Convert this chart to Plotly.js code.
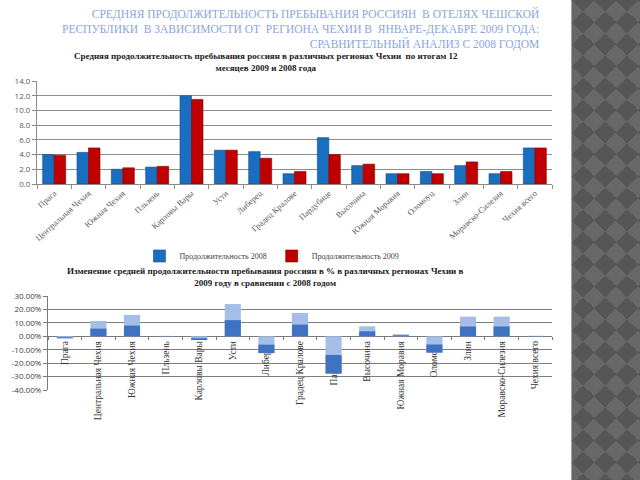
<!DOCTYPE html>
<html>
<head>
<meta charset="utf-8">
<script src="https://cdn.plot.ly/plotly-3.0.1.min.js"></script>
<style>
  html, body { margin:0; padding:0; background:#ffffff; }
  #wrap { position:relative; width:640px; height:480px; overflow:hidden; }
  #chart { position:absolute; left:0; top:0; width:640px; height:480px; }
  #strip { position:absolute; left:571px; top:0; width:69px; height:480px; z-index:10;
    border-left:1px solid #a0a0a0;
    background: conic-gradient(from -45deg, #565656 0 25%, #686868 0 50%, #565656 0 75%, #686868 0) 0 0 / 22px 22px; }
</style>
</head>
<body>
<div id="wrap">
  <div id="chart"></div>
  <div id="strip"></div>
</div>
<script>
// ---- data ----
const regions = ['Прага','Центральная Чехия','Южная Чехия','Пльзень','Карловы Вары','Усти','Либерец','Градец Кралове','Пардубице','Высочина','Южная Моравия','Оломоуц','Злин','Моравско-Силезия','Чехия всего'];
const duration2008 = [4.0, 4.3, 2.0, 2.3, 12.0, 4.6, 4.4, 1.4, 6.3, 2.5, 1.4, 1.7, 2.5, 1.4, 4.9];
const duration2009 = [3.9, 4.9, 2.2, 2.4, 11.5, 4.6, 3.5, 1.7, 4.0, 2.7, 1.4, 1.4, 3.0, 1.7, 4.9];
const changePct = [-1.5, 11.4, 15.9, 0.3, -2.8, 24.0, -12.5, 17.4, -27.8, 7.4, 1.5, -12.2, 14.6, 14.6, 0.4];
const pctTickVals = [-40, -30, -20, -10, 0, 10, 20, 30];
const pctTickText = ['-40.00%', '-30.00%', '-20.00%', '-10.00%', '0.00%', '10.00%', '20.00%', '30.00%'];

// ---- geometry helpers (pixels -> paper) ----
const W = 640, H = 480;
const px = v => v / W;
const py = v => 1 - v / H;

const top2Dom = [py(390), py(296)];
const pctMin = -40, pctMax = 30;
const zeroPos = top2Dom[0] + (top2Dom[1] - top2Dom[0]) * (0 - pctMin) / (pctMax - pctMin);

// lower (darker) half of each gradient bar
const darkBase = changePct.map(v => Math.min(0, v));
const darkLen = changePct.map(v => Math.abs(v) / 2);

const traces = [
  { type:'bar', x: regions, y: duration2008, name:'Продолжительность 2008',
    xaxis:'x', yaxis:'y', width:0.335, offset:-0.335,
    marker:{ color:'#1a6ebf', line:{ color:'#0f4f8f', width:0.6 } } },
  { type:'bar', x: regions, y: duration2009, name:'Продолжительность 2009',
    xaxis:'x', yaxis:'y', width:0.335, offset:0,
    marker:{ color:'#c00000', line:{ color:'#8a0000', width:0.6 } } },
  { type:'bar', x: regions, y: changePct, showlegend:false, hoverinfo:'skip',
    xaxis:'x2', yaxis:'y2', width:0.48, offset:-0.24,
    marker:{ color:'#a5bee6', line:{ width:0 } } },
  { type:'bar', x: regions, y: darkLen, base: darkBase, showlegend:false, hoverinfo:'skip',
    xaxis:'x2', yaxis:'y2', width:0.48, offset:-0.24,
    marker:{ color:'#3f72c0', line:{ width:0 } } }
];

const layout = {
  width: W, height: H,
  margin: { l:0, r:0, t:0, b:0 },
  paper_bgcolor: 'rgba(0,0,0,0)',
  plot_bgcolor: 'rgba(0,0,0,0)',
  barmode: 'overlay',
  font: { family:'Liberation Serif', color:'#404040' },
  showlegend: true,
  legend: {
    orientation:'h', x: px(272), xanchor:'center', y: py(256), yanchor:'middle',
    font: { family:'Liberation Serif', size:8, color:'#404040' },
    itemwidth: 30, bgcolor:'rgba(0,0,0,0)'
  },
  xaxis: {
    domain: [px(37), px(552)], anchor:'y', type:'category',
    showline:true, linecolor:'#8a8a8a', linewidth:1,
    ticks:'outside', tickson:'boundaries', ticklen:4, tickcolor:'#8a8a8a',
    tickangle:-42, showgrid:false,
    tickfont: { family:'Liberation Serif', size:8.5, color:'#595959' }
  },
  yaxis: {
    domain: [py(184), py(81)], anchor:'x', range:[0, 14], dtick:2, tickformat:'.1f',
    showline:true, linecolor:'#8a8a8a', ticks:'outside', ticklen:4, tickcolor:'#8a8a8a',
    showgrid:true, gridcolor:'#8c8c8c', gridwidth:1.2, zeroline:false,
    tickfont: { family:'Open Sans', size:8, color:'#595959' }
  },
  xaxis2: {
    domain: [px(48), px(552)], anchor:'free', position: zeroPos, type:'category',
    showline:true, linecolor:'#7a7a7a', linewidth:1,
    ticks:'outside', tickson:'boundaries', ticklen:3, tickcolor:'#7a7a7a',
    tickangle:-90, showgrid:false, layer:'below traces',
    tickfont: { family:'Liberation Serif', size:9.5, color:'#333333' }
  },
  yaxis2: {
    domain: top2Dom, anchor:'x2', range:[pctMin, pctMax],
    tickmode:'array', tickvals: pctTickVals, ticktext: pctTickText,
    showline:true, linecolor:'#7a7a7a', ticks:'outside', ticklen:4, tickcolor:'#7a7a7a',
    showgrid:true, gridcolor:'#7f7f7f', gridwidth:1.2, zeroline:false,
    tickfont: { family:'Open Sans', size:8, color:'#404040' }
  },
  annotations: [
    { text:'СРЕДНЯЯ ПРОДОЛЖИТЕЛЬНОСТЬ ПРЕБЫВАНИЯ РОССИЯН  В ОТЕЛЯХ ЧЕШСКОЙ<br>РЕСПУБЛИКИ  В ЗАВИСИМОСТИ ОТ  РЕГИОНА ЧЕХИИ В  ЯНВАРЕ-ДЕКАБРЕ 2009 ГОДА:<br>СРАВНИТЕЛЬНЫЙ АНАЛИЗ С 2008 ГОДОМ',
      xref:'paper', yref:'paper', x: px(541), y: py(5), xanchor:'right', yanchor:'top', align:'right',
      showarrow:false, font:{ family:'Liberation Serif', size:11.5, color:'#8aa6da' } },
    { text:'<b>Средняя продолжительность пребывания россиян в различных регионах Чехии  по итогам 12<br>месяцев 2009 и 2008 года</b>',
      xref:'paper', yref:'paper', x: px(266), y: py(62), xanchor:'center', yanchor:'middle',
      showarrow:false, font:{ family:'Liberation Serif', size:9, color:'#1a1a1a' } },
    { text:'<b>Изменение средней продолжительности пребывания россиян в % в различных регионах Чехии в<br>2009 году в сравнении с 2008 годом</b>',
      xref:'paper', yref:'paper', x: px(265), y: py(277), xanchor:'center', yanchor:'middle',
      showarrow:false, font:{ family:'Liberation Serif', size:9, color:'#1a1a1a' } }
  ]
};

Plotly.newPlot('chart', traces, layout, { displayModeBar:false, staticPlot:true });
</script>
</body>
</html>
